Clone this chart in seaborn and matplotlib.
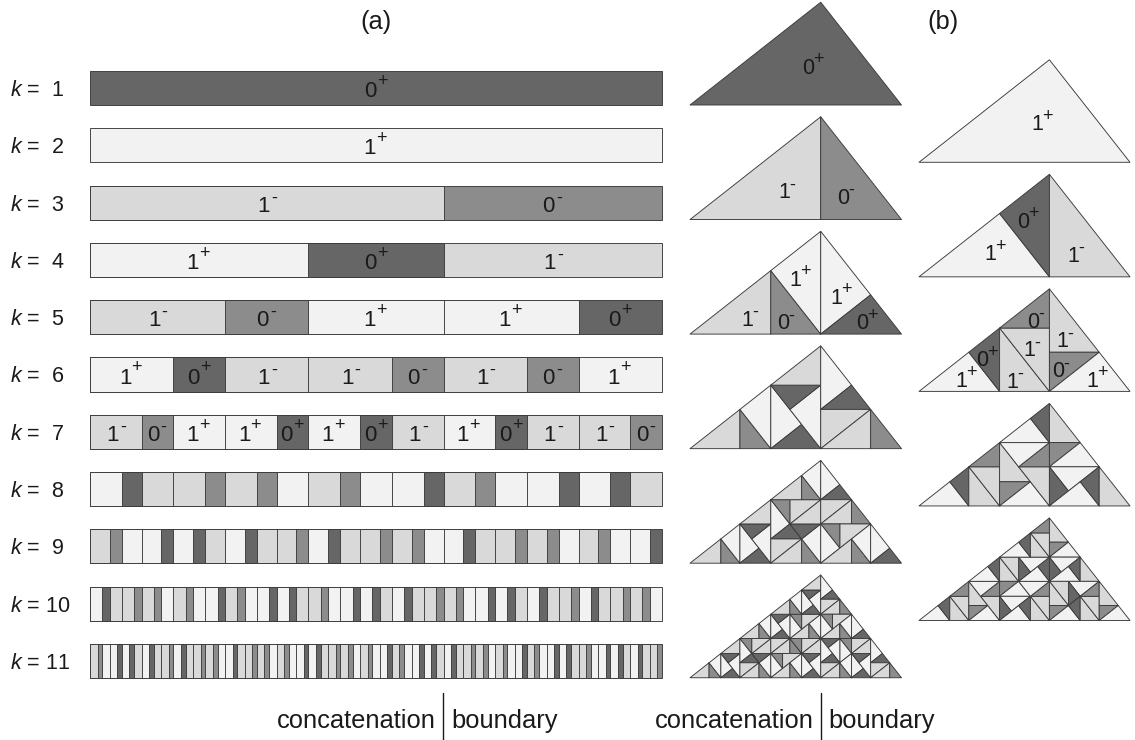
import numpy as np
import pandas as pd
import matplotlib
matplotlib.use("Agg")
import matplotlib.pyplot as plt
from matplotlib.lines import Line2D
from matplotlib.patches import Polygon
import seaborn as sns

# a = 1+, b = 0+, c = 1-, d = 0-
K_SEQ = {
    1: "b",
    2: "a",
    3: "cd",
    4: "abc",
    5: "cdaab",
    6: "abccdcda",
    7: "cdaababcabccd",
    8: "abccdcdacdaabcdaababc",
    9: "cdaababcabccdabccdcdaabccdcdacdaab",
    10: "abccdcdacdaabcdaababccdaababcabccdcdaababcabccdabccdcda",
    11: "cdaababcabccd" "abccdcda" "abccdcdacdaab" "abccdcdacdaab" "cdaababcabccd" "cdacdaabcdaab" "abccdaababcabccd",
}
STATE_DIGIT = {"a": "1", "b": "0", "c": "1", "d": "0"}
STATE_SIGN = {"a": "+", "b": "+", "c": "-", "d": "-"}
STATE_COLOR = {"a": "#f2f2f2", "b": "#666666", "c": "#d9d9d9", "d": "#8c8c8c"}
PHI = (1 + 5 ** 0.5) / 2
CELL_WEIGHT = {"a": PHI, "c": PHI, "b": 1.0, "d": 1.0}
EDGE = "#3a3a3a"
COL_A_K = [1, 3, 5, 7, 9, 11]
COL_B_K = [2, 4, 6, 8, 10]

TRI_LABELS = {
    1: [(808, 66)],
    2: [(1037, 123)],
    3: [(784, 191), (843, 196)],
    4: [(990, 253), (1023, 220), (1073, 254)],
    5: [(747, 318), (783, 322), (795, 278), (836, 296), (862, 322)],
    6: [(961, 379), (982, 359), (1012, 380), (1029, 349), (1033, 320),
        (1062, 340), (1058, 370), (1092, 379)],
}

W, H = 1135, 740
sns.set_theme(style="white")
plt.rcParams["font.family"] = ["Liberation Sans", "DejaVu Sans"]
plt.rcParams["mathtext.fontset"] = "custom"
plt.rcParams["mathtext.it"] = "Liberation Sans:italic"
plt.rcParams["mathtext.rm"] = "Liberation Sans"

fig = plt.figure(figsize=(W / 100, H / 100), dpi=100, facecolor="white")


def px_axes(x0, y0, x1, y1):
    return fig.add_axes([x0 / W, 1 - y1 / H, (x1 - x0) / W, (y1 - y0) / H])


def fig_label(state, x, y, size=15.5):
    digit_base = y + 7.5
    fig.text(x / W, 1 - digit_base / H, STATE_DIGIT[state], fontsize=size,
             ha="center", va="baseline", color="#1a1a1a")
    dx = 10.5 if state in "ab" else 8.5
    dy = -8 if state in "ab" else -6.5
    off = 6 if state in "ab" else 5
    fig.text((x + dx) / W, 1 - (y + dy + off) / H, STATE_SIGN[state], fontsize=13,
             ha="center", va="baseline", color="#1a1a1a")


rows = []
for k, seq in K_SEQ.items():
    weights = np.array([CELL_WEIGHT[s] for s in seq])
    rights = np.cumsum(weights) / weights.sum()
    for i, s in enumerate(seq):
        rows.append({"row": f"$\\mathit{{k}}$ = {' ' if k < 10 else ''}{k}", "k": k,
                     "cell": f"{k}-{i}", "state": s, "right": rights[i],
                     "mid": rights[i] - weights[i] / weights.sum() / 2})
frame = pd.DataFrame(rows).sort_values("right", ascending=False)
row_order = [f"$\\mathit{{k}}$ = {' ' if k < 10 else ''}{k}" for k in K_SEQ]

ax = px_axes(90, 71, 662, 678)
sns.barplot(data=frame, x="right", y="row", hue="cell", order=row_order,
            hue_order=list(frame["cell"]),
            palette=dict(zip(frame["cell"], frame["state"].map(STATE_COLOR))),
            dodge=False, legend=False, errorbar=None, saturation=1, width=0.594,
            edgecolor=EDGE, linewidth=0.65, ax=ax, clip_on=False)
ax.set_xlim(0, 1)
ax.set_ylim(10.297, -0.297)
ax.set_xlabel("")
ax.set_ylabel("")
ax.set_xticks([])
ax.tick_params(axis="y", length=0, pad=57.5, labelsize=15.5)
for lab in ax.get_yticklabels():
    lab.set_ha("left")
    lab.set_color("#1a1a1a")
sns.despine(ax=ax, left=True, bottom=True)

for _, r in frame[frame["k"] <= 7].iterrows():
    pos = row_order.index(r["row"])
    s = r["state"]
    d_dx, s_dx = {"a": (-6.5, 5), "b": (-6, 6), "c": (-3, 7), "d": (-4, 6)}[s]
    ax.annotate(STATE_DIGIT[s], xy=(r["mid"], pos), xytext=(d_dx, -9),
                textcoords="offset pixels", fontsize=16, ha="center", va="baseline",
                color="#1a1a1a")
    ax.annotate(STATE_SIGN[s], xy=(r["mid"], pos), xytext=(s_dx, 2 if s in "ab" else 0),
                textcoords="offset pixels", fontsize=13, ha="center", va="baseline",
                color="#1a1a1a")


def split(tri):
    p, q, c = tri
    t = np.dot(c - p, q - p) / np.dot(q - p, q - p)
    f = p + t * (q - p)
    return [(p, c, f), (c, q, f)]


def next_level(tris, prev_seq):
    out = []
    for tri, s in zip(tris, prev_seq):
        if s in "ac":
            out.extend(split(tri))
        else:
            out.append(tri)
    return out


apex_x = 1 / PHI
apex_y = (apex_x * (1 - apex_x)) ** 0.5
base_tri = (np.array([0.0, 0.0]), np.array([1.0, 0.0]), np.array([apex_x, apex_y]))

levels = {1: [base_tri]}
for k in range(2, 12):
    levels[k] = next_level(levels[k - 1], K_SEQ[k - 1])


def draw_tri(k, x0, x1, base_y):
    height = (x1 - x0) * apex_y
    a = px_axes(x0, base_y - height, x1, base_y)
    a.set_xlim(0, 1)
    a.set_ylim(0, apex_y)
    a.axis("off")
    for tri, s in zip(levels[k], K_SEQ[k]):
        a.add_patch(Polygon(np.array(tri), closed=True, facecolor=STATE_COLOR[s],
                            edgecolor=EDGE, linewidth=0.65, clip_on=False,
                            joinstyle="round"))


for i, k in enumerate(COL_A_K):
    draw_tri(k, 690, 901.5, 105 + 114.55 * i)
for i, k in enumerate(COL_B_K):
    draw_tri(k, 919, 1130, 162.3 + 114.55 * i)

for k, places in TRI_LABELS.items():
    for s, (x, y) in zip(K_SEQ[k], places):
        fig_label(s, x, y)

for txt, x in (("(a)", 376), ("(b)", 943)):
    fig.text(x / W, 1 - 22 / H, txt, fontsize=18.4, ha="center", va="center", color="#1a1a1a")
for x in (443, 820.5):
    fig.text((x - 7) / W, 1 - 728 / H, "concatenation", fontsize=18.4, ha="right",
             va="baseline", color="#1a1a1a")
    fig.text((x + 8) / W, 1 - 728 / H, "boundary", fontsize=18.4, ha="left",
             va="baseline", color="#1a1a1a")
    fig.add_artist(Line2D([x / W, x / W], [1 - 693 / H, 1 - 740 / H], color="#1a1a1a", lw=1))

fig.savefig("out.png", dpi=100, facecolor="white")
